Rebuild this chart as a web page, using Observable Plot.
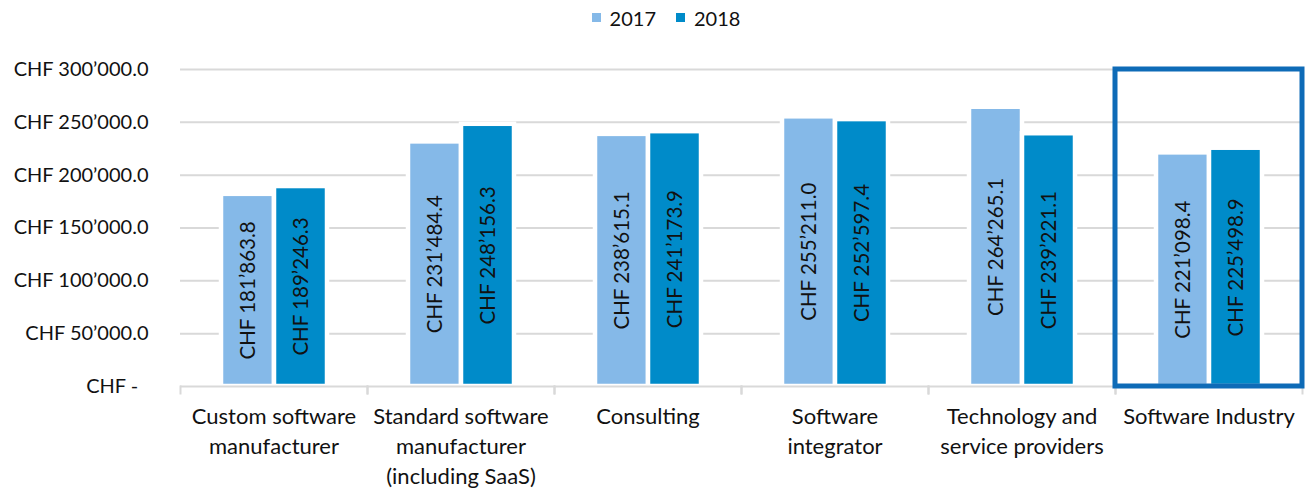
<!DOCTYPE html>
<html>
<head>
<meta charset="utf-8">
<script src="https://cdn.jsdelivr.net/npm/d3@7"></script>
<script src="https://cdn.jsdelivr.net/npm/@observablehq/plot@0.6"></script>
<style>
  html, body { margin: 0; padding: 0; background: #fff; }
  body { width: 1312px; height: 491px; overflow: hidden; font-family: Lato, "Open Sans", sans-serif; color: #111; font-variant-numeric: tabular-nums; }
  #legend { height: 35px; display: flex; justify-content: center; align-items: center; padding-left: 20px; box-sizing: border-box; font-size: 20px; }
  .item { display: flex; align-items: center; margin: 0 10px; }
  .sw { width: 9px; height: 9px; margin-right: 9px; }
  svg { display: block; font-variant-numeric: tabular-nums; }
</style>
</head>
<body>
<div id="legend"></div>
<div id="chart"></div>
<script>
const categories = [
  "Custom software manufacturer",
  "Standard software manufacturer (including SaaS)",
  "Consulting",
  "Software integrator",
  "Technology and service providers",
  "Software Industry"
];
const categoryLabels = [
  "Custom software\nmanufacturer",
  "Standard software\nmanufacturer\n(including SaaS)",
  "Consulting",
  "Software\nintegrator",
  "Technology and\nservice providers",
  "Software Industry"
];
const years = ["2017", "2018"];
const values2017 = [181863.8, 231484.4, 238615.1, 255211.0, 264265.1, 221098.4];
const values2018 = [189246.3, 248156.3, 241173.9, 252597.4, 239221.1, 225498.9];
const yTicks = [0, 50000, 100000, 150000, 200000, 250000, 300000];
const highlight = "Software Industry";
const colors = ["#85b9e8", "#008bc9"];

const data = [];
categories.forEach((c, i) => {
  data.push({category: c, year: "2017", value: values2017[i]});
  data.push({category: c, year: "2018", value: values2018[i]});
});

const num = d3.format(",.1f");
const chf = v => "CHF " + num(v).replace(/,/g, "\u2019");
const tickFmt = v => v === 0 ? "CHF -\u00a0\u00a0" : chf(v);
const labelOf = new Map(categories.map((c, i) => [c, categoryLabels[i]]));

// legend
const legend = document.getElementById("legend");
years.forEach((y, i) => {
  const it = document.createElement("div");
  it.className = "item";
  it.innerHTML = `<span class="sw" style="background:${colors[i]}"></span><span>${y}</span>`;
  legend.appendChild(it);
});

const W = 1312, H = 456, MT = 34, MB = 105;
const plot = Plot.plot({
  width: W,
  height: H,
  marginTop: MT,
  marginBottom: MB,
  marginLeft: 178,
  marginRight: 8,
  style: {fontFamily: "Lato, 'Open Sans', sans-serif", fontSize: "20px", color: "#111", background: "#fff"},
  fx: {domain: categories, padding: 0, label: null},
  x: {domain: years, paddingInner: 0, paddingOuter: 0.738, axis: null},
  y: {domain: [0, 300000], axis: null},
  color: {domain: years, range: colors},
  marks: [
    Plot.ruleY(yTicks.filter(d => d > 0), {stroke: "#d9d9d9", strokeWidth: 2}),
    Plot.barY(data, {fx: "category", x: "year", y: "value", fill: "year", stroke: "#fff", strokeWidth: 4.5}),
    Plot.text(data, {fx: "category", x: "year", y: d => d.value / 2, text: d => chf(d.value), rotate: -90, fontSize: 20.5, fill: "#111"}),
    Plot.ruleY([0], {stroke: "#d9d9d9", strokeWidth: 2}),
    Plot.frame({anchor: "left", stroke: "#d9d9d9", strokeWidth: 2, insetTop: H - MT - MB, insetBottom: -7}),
    Plot.frame({anchor: "right", stroke: "#d9d9d9", strokeWidth: 2, insetTop: H - MT - MB, insetBottom: -7}),
    Plot.axisY(yTicks, {tickSize: 0, tickPadding: 32, tickFormat: tickFmt, fontSize: 20, fill: "#111", label: null}),
    Plot.axisFx({anchor: "bottom", tickSize: 0, tickPadding: 16, tickFormat: c => labelOf.get(c), lineHeight: 1.36, fontSize: 22, fill: "#111", label: null}),
    Plot.rect([highlight], {fx: d => d, y1: 0, y2: 300000, fill: "none", stroke: "#0e6bb7", strokeWidth: 5})
  ]
});
document.getElementById("chart").appendChild(plot);
</script>
</body>
</html>
